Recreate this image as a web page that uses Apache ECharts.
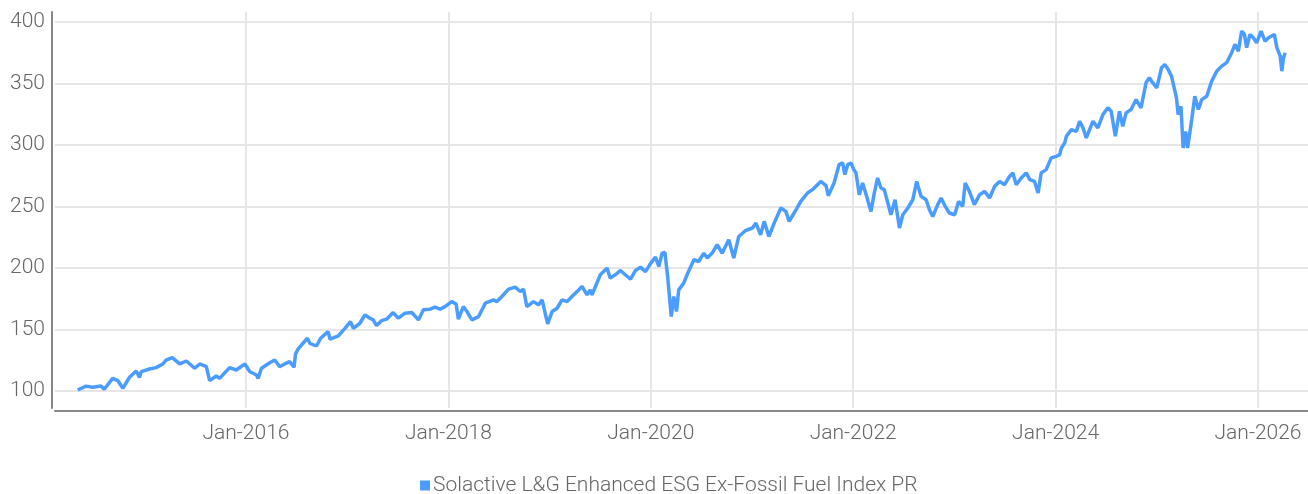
<!DOCTYPE html>
<html lang="en">
<head>
    <meta charset="UTF-8">
    <title>Solactive L&G Enhanced ESG Ex-Fossil Fuel Index PR</title>
    <script src="https://cdn.jsdelivr.net/npm/echarts@6/dist/echarts.min.js"></script>
    <style>
        html, body { margin: 0; padding: 0; background: #fff; }
        #main { width: 1308px; height: 494px; }
    </style>
</head>
<body>
<div id="main"></div>
<script>
    var seriesName = 'Solactive L&G Enhanced ESG Ex-Fossil Fuel Index PR';

    // roughly every 2-4 weeks
    var dates = [
        '2014-05-04', '2014-06-03', '2014-06-27', '2014-07-27', '2014-08-08', '2014-09-07', '2014-09-26', '2014-10-14',
        '2014-11-07', '2014-12-01', '2014-12-13', '2014-12-19', '2015-01-18', '2015-02-11', '2015-03-07', '2015-03-19',
        '2015-04-10', '2015-05-07', '2015-05-31', '2015-06-30', '2015-07-18', '2015-08-11', '2015-08-23', '2015-09-16',
        '2015-09-28', '2015-11-03', '2015-11-27', '2015-12-28', '2016-01-15', '2016-02-08', '2016-02-14', '2016-02-26',
        '2016-03-27', '2016-04-14', '2016-05-02', '2016-05-20', '2016-06-07', '2016-06-23', '2016-06-28', '2016-07-07',
        '2016-08-10', '2016-08-19', '2016-09-12', '2016-09-27', '2016-10-24', '2016-10-31', '2016-11-06', '2016-11-30',
        '2016-12-06', '2016-12-24', '2017-01-13', '2017-01-23', '2017-02-16', '2017-03-06', '2017-03-24', '2017-04-05',
        '2017-04-17', '2017-05-05', '2017-05-23', '2017-06-16', '2017-07-04', '2017-07-29', '2017-08-22', '2017-09-15',
        '2017-10-03', '2017-10-27', '2017-11-14', '2017-12-02', '2017-12-20', '2018-01-13', '2018-01-29', '2018-02-06',
        '2018-02-24', '2018-03-09', '2018-03-27', '2018-04-20', '2018-05-14', '2018-06-13', '2018-06-25', '2018-07-13',
        '2018-08-06', '2018-08-30', '2018-09-17', '2018-09-29', '2018-10-11', '2018-11-04', '2018-11-22', '2018-12-05',
        '2018-12-25', '2019-01-10', '2019-01-28', '2019-02-15', '2019-03-05', '2019-03-29', '2019-04-16', '2019-04-28',
        '2019-05-16', '2019-05-28', '2019-06-03', '2019-07-03', '2019-07-27', '2019-08-08', '2019-08-26', '2019-09-14',
        '2019-10-01', '2019-10-20', '2019-11-07', '2019-11-25', '2019-12-13', '2020-01-01', '2020-01-18', '2020-01-30',
        '2020-02-11', '2020-02-21', '2020-03-02', '2020-03-15', '2020-03-24', '2020-04-03', '2020-04-11', '2020-04-29',
        '2020-05-11', '2020-06-05', '2020-06-22', '2020-07-11', '2020-07-23', '2020-08-10', '2020-08-28', '2020-09-15',
        '2020-10-09', '2020-10-27', '2020-11-14', '2020-12-09', '2021-01-03', '2021-01-15', '2021-02-01', '2021-02-14',
        '2021-03-03', '2021-03-22', '2021-04-15', '2021-05-03', '2021-05-15', '2021-06-02', '2021-06-26', '2021-07-20',
        '2021-08-07', '2021-09-06', '2021-09-25', '2021-10-03', '2021-10-24', '2021-11-11', '2021-11-24', '2021-12-02',
        '2021-12-12', '2021-12-24', '2022-01-02', '2022-01-11', '2022-01-23', '2022-02-04', '2022-02-22', '2022-03-06',
        '2022-03-18', '2022-03-30', '2022-04-11', '2022-04-23', '2022-05-06', '2022-05-17', '2022-06-01', '2022-06-17',
        '2022-06-29', '2022-07-17', '2022-08-04', '2022-08-18', '2022-09-03', '2022-09-21', '2022-10-03', '2022-10-15',
        '2022-11-02', '2022-11-14', '2022-11-29', '2022-12-14', '2023-01-02', '2023-01-16', '2023-01-31', '2023-02-09',
        '2023-02-24', '2023-03-14', '2023-04-02', '2023-04-20', '2023-05-08', '2023-05-26', '2023-06-13', '2023-07-01',
        '2023-07-19', '2023-07-31', '2023-08-12', '2023-08-30', '2023-09-17', '2023-09-30', '2023-10-17', '2023-10-30',
        '2023-11-10', '2023-11-28', '2023-12-16', '2024-01-04', '2024-01-16', '2024-01-22', '2024-02-03', '2024-02-09',
        '2024-02-27', '2024-03-16', '2024-03-28', '2024-04-09', '2024-04-21', '2024-05-15', '2024-06-02', '2024-06-20',
        '2024-07-08', '2024-07-20', '2024-08-04', '2024-08-19', '2024-08-31', '2024-09-12', '2024-09-30', '2024-10-18',
        '2024-11-05', '2024-11-23', '2024-12-05', '2024-12-17', '2025-01-01', '2025-01-18', '2025-01-30', '2025-02-11',
        '2025-02-23', '2025-03-13', '2025-03-19', '2025-03-29', '2025-04-06', '2025-04-15', '2025-04-22', '2025-05-07',
        '2025-05-18', '2025-05-31', '2025-06-12', '2025-06-30', '2025-07-18', '2025-08-05', '2025-08-23', '2025-09-10',
        '2025-09-28', '2025-10-10', '2025-10-22', '2025-11-03', '2025-11-13', '2025-11-21', '2025-12-03', '2025-12-15',
        '2025-12-27', '2026-01-12', '2026-01-26', '2026-02-08', '2026-03-01', '2026-03-10', '2026-03-22', '2026-03-28',
        '2026-04-03', '2026-04-09'
    ];

    var values = [
        100.8, 104, 103, 104, 101.4, 110.3, 108.4, 102.2,
        111.2, 116.3, 111, 115.7, 117.9, 119, 122, 125.2,
        127.1, 122, 124.4, 118.5, 122, 119.8, 108.4, 112.2,
        110.3, 119, 117.1, 122, 115.7, 113, 110.3, 118.5,
        123, 125.2, 119.8, 122, 123.9, 119.3, 130, 134,
        142.9, 138.8, 136.6, 142.9, 148.3, 142.1, 142.9, 144.8,
        143.7, 151, 156.4, 151, 155.1, 161.9, 159.2, 157.8,
        153.2, 157.2, 158.4, 163.8, 159.2, 163.3, 163.8, 157.8,
        166, 166.5, 168.2, 166.5, 168.6, 172.7, 170.8, 158.4,
        168.6, 164.6, 157.8, 160.5, 171.4, 174.1, 172.7, 176.8,
        182.8, 184.4, 180.9, 182.8, 168.6, 172.7, 170, 174.1,
        154.6, 164.6, 167.3, 174.1, 172.7, 178.2, 182.2, 185,
        178.2, 182.2, 178.2, 194.5, 199.9, 191.8, 194.5, 198,
        194.5, 191, 198, 200.7, 197.1, 204, 208.9, 201.2,
        212.1, 212.6, 193.1, 160.5, 176.8, 164.6, 182.2, 187.7,
        194.5, 206.7, 205.3, 212.1, 208.1, 212.1, 218.9, 212.1,
        223, 208.1, 225.6, 230.5, 232.5, 236.5, 227, 237.9,
        225.6, 236.5, 248.8, 246, 237.9, 244.7, 254.1, 261,
        263.7, 270.4, 267, 258.8, 269.1, 284, 285.4, 275.9,
        284, 285.4, 280.5, 277.3, 259.6, 269.1, 255.5, 246,
        260.9, 273.2, 265, 263.7, 252.8, 243.3, 255.5, 232.5,
        243.3, 248.8, 255.5, 270.4, 258.2, 255.5, 247.4, 241.9,
        251.5, 256.9, 250.1, 244.7, 243.3, 254.1, 250.1, 269.1,
        262.3, 251.5, 259.6, 262.3, 256.9, 266.4, 270.4, 267.7,
        274.5, 277.3, 267.7, 273.2, 277.3, 271.8, 270.4, 260.9,
        277.3, 280, 289.5, 290.8, 292.2, 297.6, 301.7, 307.1,
        312.5, 311.1, 319.3, 313.9, 305.7, 319.3, 313.9, 324.7,
        330.2, 327.4, 307.1, 327.4, 315.2, 326.1, 328.8, 336.9,
        330.2, 350.6, 354.6, 350.6, 346.5, 362.8, 365.5, 361.4,
        356, 338.3, 324.7, 331.5, 297.6, 311.1, 297.6, 320.7,
        339.6, 328.8, 336.9, 339.6, 351.9, 360, 364.1, 366.9,
        375, 381.8, 376.3, 392.6, 389.9, 379.1, 389.9, 387.1,
        383.1, 392.6, 384.4, 387.1, 389.9, 379.1, 372.3, 360,
        371, 375
    ];

    // axis window as seen in the picture (decimal years / index points)
    var xMin = 2014.113, xMax = 2026.494;
    var yMin = 86.2, yMax = 408.1;

    var font = 'Roboto, sans-serif';
    var lineColor = '#4b9cff';

    function toYear(s) {
        var p = s.split('-');
        var y = +p[0];
        var t = Date.UTC(y, +p[1] - 1, +p[2]);
        var a = Date.UTC(y, 0, 1), b = Date.UTC(y + 1, 0, 1);
        return y + (t - a) / (b - a);
    }

    var points = dates.map(function (d, i) {
        return [toYear(d), values[i]];
    });

    var chart = echarts.init(document.getElementById('main'));
    chart.setOption({
        animation: false,
        textStyle: { fontFamily: font, fontWeight: 300 },
        grid: { left: 55, right: 0, top: 12, bottom: 86 },
        legend: {
            data: [seriesName],
            left: 415,
            top: 470,
            icon: 'rect',
            itemWidth: 10,
            itemHeight: 10,
            itemGap: 5,
            textStyle: { color: '#666', fontSize: 21, fontWeight: 300, fontFamily: font, padding: [0, 0, 0, -2] }
        },
        xAxis: {
            type: 'value',
            min: xMin,
            max: xMax,
            offset: 3,
            axisLine: { show: true, lineStyle: { color: '#888', width: 2 } },
            axisTick: { show: false },
            axisLabel: {
                showMinLabel: false,
                showMaxLabel: false,
                color: '#666',
                fontSize: 21,
                fontWeight: 300,
                fontFamily: font,
                margin: 12,
                formatter: function (v) { return 'Jan-' + Math.round(v); }
            },
            splitLine: {
                show: true,
                showMinLine: false,
                showMaxLine: false,
                lineStyle: { color: '#e6e6e6', width: 2 }
            }
        },
        yAxis: {
            type: 'value',
            min: yMin,
            max: yMax,
            offset: 3,
            axisLine: { show: true, lineStyle: { color: '#888', width: 2 } },
            axisTick: { show: false },
            axisLabel: {
                showMinLabel: false,
                showMaxLabel: false,
                color: '#666',
                fontSize: 21,
                fontWeight: 300,
                fontFamily: font,
                margin: 7
            },
            splitLine: {
                show: true,
                showMinLine: false,
                showMaxLine: false,
                lineStyle: { color: '#e6e6e6', width: 2 }
            }
        },
        series: [{
            name: seriesName,
            type: 'line',
            data: points,
            showSymbol: false,
            color: lineColor,
            lineStyle: { width: 3.5, color: lineColor }
        }]
    });
</script>
</body>
</html>
